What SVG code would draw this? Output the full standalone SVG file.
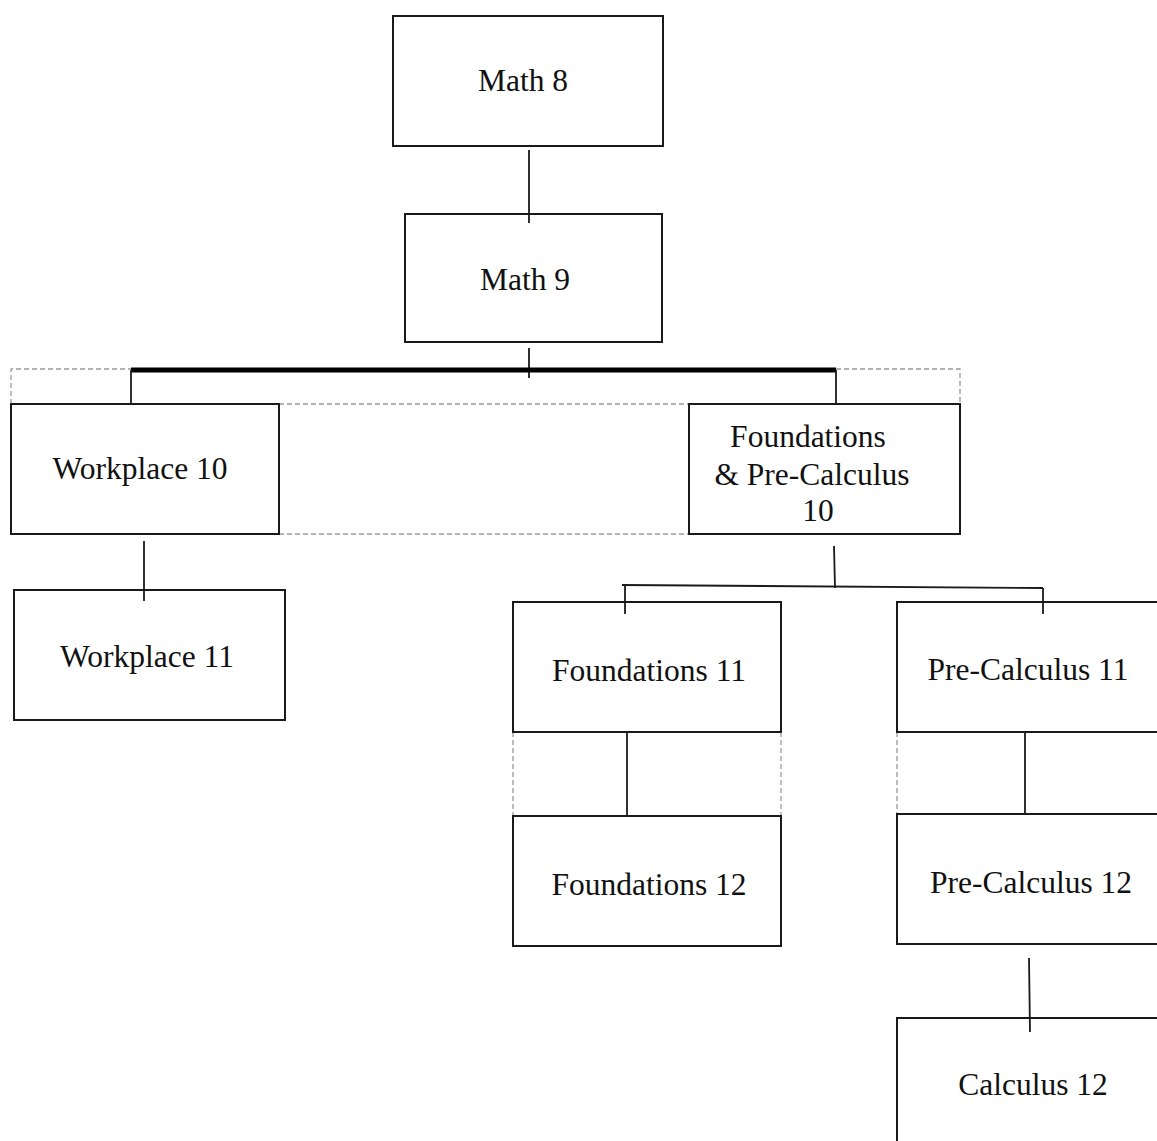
<svg xmlns="http://www.w3.org/2000/svg" width="1157" height="1141" viewBox="0 0 1157 1141">
<style>
.box{fill:#fff;stroke:#1a1a1a;stroke-width:2}
.lbl{font-family:"Liberation Serif","Times New Roman",serif;font-size:31.5px;fill:#111;text-anchor:middle}
.ln{stroke:#1a1a1a;stroke-width:1.8;fill:none}
.dash{stroke:#9a9a9a;stroke-width:1.3;stroke-dasharray:5 3;fill:none}
</style>
<rect width="1157" height="1141" fill="#fff"/>
<g id="guides">
<path class="dash" d="M11 404 V369 H131 M836 369 H960 V404"/>
<path class="dash" d="M279 404 H689 M279 534 H689"/>
<path class="dash" d="M513 732 V816 M781 732 V816"/>
<path class="dash" d="M897 732 V814"/>
</g>
<g id="math8"><rect class="box" x="393" y="16" width="270" height="130"/><text class="lbl" x="523" y="91">Math 8</text></g>
<g id="math9"><rect class="box" x="405" y="214" width="257" height="128"/><text class="lbl" x="525" y="290">Math 9</text></g>
<g id="workplace10"><rect class="box" x="11" y="404" width="268" height="130"/><text class="lbl" x="140" y="479">Workplace 10</text></g>
<g id="fpc10"><rect class="box" x="689" y="404" width="271" height="130"/><text class="lbl" x="808" y="447">Foundations</text><text class="lbl" x="812" y="485">&amp; Pre-Calculus</text><text class="lbl" x="818" y="521">10</text></g>
<g id="workplace11"><rect class="box" x="14" y="590" width="271" height="130"/><text class="lbl" x="147" y="667">Workplace 11</text></g>
<g id="foundations11"><rect class="box" x="513" y="602" width="268" height="130"/><text class="lbl" x="649" y="681">Foundations 11</text></g>
<g id="precalc11"><rect class="box" x="897" y="602" width="270" height="130"/><text class="lbl" x="1028" y="680">Pre-Calculus 11</text></g>
<g id="foundations12"><rect class="box" x="513" y="816" width="268" height="130"/><text class="lbl" x="649" y="895">Foundations 12</text></g>
<g id="precalc12"><rect class="box" x="897" y="814" width="270" height="130"/><text class="lbl" x="1031" y="893">Pre-Calculus 12</text></g>
<g id="calculus12"><rect class="box" x="897" y="1018" width="270" height="140"/><text class="lbl" x="1033" y="1095">Calculus 12</text></g>
<g id="connectors">
<line class="ln" x1="529" y1="150" x2="529" y2="223"/>
<line class="ln" x1="529" y1="348" x2="529" y2="378"/>
<line x1="131" y1="370" x2="836" y2="370" stroke="#000" stroke-width="5"/>
<line class="ln" x1="131" y1="370" x2="131" y2="404"/>
<line class="ln" x1="836" y1="370" x2="836" y2="404"/>
<line class="ln" x1="144" y1="541" x2="144" y2="601"/>
<line class="ln" x1="834" y1="546" x2="835" y2="588"/>
<line class="ln" x1="622" y1="585" x2="1043" y2="588"/>
<line class="ln" x1="625" y1="585" x2="625" y2="614"/>
<line class="ln" x1="1043" y1="588" x2="1043" y2="614"/>
<line class="ln" x1="627" y1="732" x2="627" y2="816"/>
<line class="ln" x1="1025" y1="732" x2="1025" y2="814"/>
<line class="ln" x1="1029" y1="958" x2="1030" y2="1032"/>
</g>
</svg>
